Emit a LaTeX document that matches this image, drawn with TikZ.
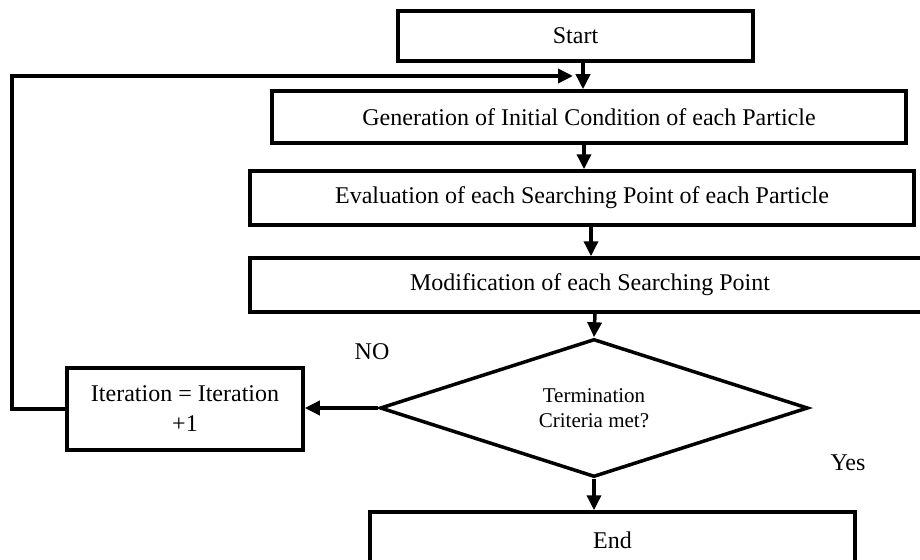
\documentclass[tikz,border=0pt]{standalone}
\usepackage{fontspec}
\setmainfont{Liberation Serif}
\usepackage{tikz}
\usetikzlibrary{calc,shapes.geometric,arrows.meta}
\tikzset{x=1pt, y=-1pt,
    flow box/.style={draw=black, line width=3.5pt, rectangle, inner sep=0pt,
           font=\fontsize{24}{30}\selectfont, align=center},
    decision/.style={draw=black, line width=3.5pt, diamond, aspect=3.1,
           inner sep=0pt, minimum width=428pt, minimum height=138pt,
           font=\fontsize{21}{25}\selectfont, align=center},
    flow arrow/.style={draw=black, line width=3.5pt,
           -{Triangle[length=15pt,width=14pt]}},
    flow label/.style={font=\fontsize{24}{30}\selectfont}
    }

\begin{document}
\begin{tikzpicture}
\useasboundingbox (0,0) rectangle (920,559);
\node (Start) [flow box, minimum width=355pt, minimum height=50pt] at (575.5,36) {Start};
\node (Gen) [flow box, minimum width=634pt, minimum height=52pt] at (589,117) {Generation of Initial Condition of each Particle};
\node (Eval) [flow box, minimum width=664pt, minimum height=54pt] at (582,198) {Evaluation of each Searching Point of each Particle};
\node (Mod) [flow box, minimum width=680pt, minimum height=54pt] at (590,285) {Modification of each Searching Point};
\node (Test) [decision] at (594,408) {Termination\\Criteria met?};
\node (Iter) [flow box, minimum width=236pt, minimum height=82pt] at (185,409) {Iteration = Iteration\\+1};
\node (End) [flow box, minimum width=485pt, minimum height=56pt] at (612.5,540) {End};
\node (No) [flow label] at (372,352) {NO};
\node (Yes) [flow label] at (848,463) {Yes};
\coordinate (Loop) at (12,76);
\coordinate (Entry) at (573,76);
% main chain
\draw[flow arrow] ([xshift=7.5pt]Start.south) -- ([xshift=7.5pt]Start.south |- Gen.north);
\draw[flow arrow] ([xshift=-5pt]Gen.south) -- ([xshift=-5pt]Gen.south |- Eval.north);
\draw[flow arrow] ([xshift=9pt]Eval.south) -- ([xshift=9pt]Eval.south |- Mod.north);
\draw[flow arrow] ([xshift=5pt]Mod.south) -- (Test.north);
\draw[flow arrow] (Test.south) -- (Test.south |- End.north);
% loop back
\draw[flow arrow] (Test.west) -- (Test.west -| Iter.east);
\draw[flow arrow] (Iter.west) -| (Loop) -- (Entry);
\end{tikzpicture}
\end{document}
